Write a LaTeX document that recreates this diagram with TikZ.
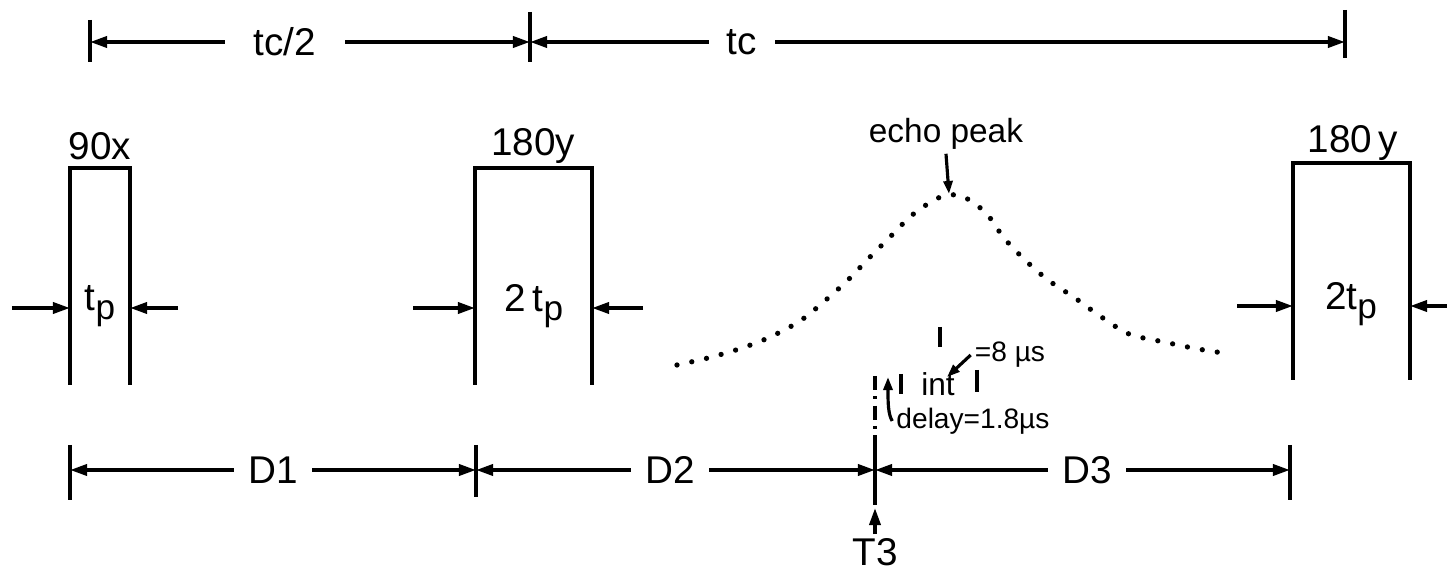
\documentclass[tikz,border=0pt]{standalone}
\usepackage{fontspec}
\setmainfont{Liberation Sans}
\usetikzlibrary{arrows.meta}

\newcommand{\pulsewidth}{t\raisebox{-0.45ex}{\fontsize{10}{10}\selectfont p}}

\begin{document}
\begin{tikzpicture}[x=0.01cm, y=-0.01cm,
    dimline/.style={line width=1pt, -{Triangle[length=1.7mm,width=1.1mm]}},
    smallarrow/.style={line width=0.9pt, -{Triangle[length=1.3mm,width=0.9mm]}},
    tickline/.style={line width=1pt},
    pulse/.style={line width=1.1pt},
    lbl/.style={font=\fontsize{11}{13}\selectfont, inner sep=1pt},
    smalllbl/.style={font=\fontsize{8}{9}\selectfont, inner sep=1pt},
    echodots/.style={line width=1.5pt, line cap=round, dash pattern=on 0pt off 4.3pt}]
    \useasboundingbox (0,0) rectangle (1447,573);

    % cycle time along the top
    \draw[tickline] (90,20) -- (90,62);
    \draw[tickline] (530,12) -- (530,62);
    \draw[tickline] (1345,10) -- (1345,58);
    \coordinate (top0) at (90,42);
    \coordinate (top1) at (530,42);
    \coordinate (top2) at (1345,42);
    \node[lbl, inner xsep=8pt] (tchalf) at (285,42) {tc/2};
    \node[lbl, inner xsep=5pt] (tcfull) at (742,42) {tc};
    \draw[dimline] (tchalf.west) -- (top0);
    \draw[dimline] (tchalf.east) -- (top1);
    \draw[dimline] (tcfull.west) -- (top1);
    \draw[dimline] (tcfull.east) -- (top2);

    % the three rf pulses
    \draw[pulse] (70,385) -- (70,168) -- (130,168) -- (130,385);
    \draw[pulse] (475,385) -- (475,168) -- (592,168) -- (592,385);
    \draw[pulse] (1293,380) -- (1293,163) -- (1410,163) -- (1410,380);
    \node[lbl] (p90x) at (100,146) {90x};
    \node[lbl] (p180a) at (533,146) {180y};
    \node[lbl] (p180b) at (1353,143) {180\,y};

    % pulse widths
    \node[lbl] (w90x) at (100,306) {\pulsewidth};
    \node[lbl] (w180a) at (534,306) {2\,\pulsewidth};
    \node[lbl] (w180b) at (1351,304) {2\pulsewidth};
    \coordinate (wa0) at (12,308);   \coordinate (wa1) at (70,308);
    \coordinate (wa2) at (178,308);  \coordinate (wa3) at (130,308);
    \coordinate (wb0) at (413,308);  \coordinate (wb1) at (475,308);
    \coordinate (wb2) at (643,308);  \coordinate (wb3) at (592,308);
    \coordinate (wc0) at (1237,306); \coordinate (wc1) at (1293,306);
    \coordinate (wc2) at (1447,306); \coordinate (wc3) at (1410,306);
    \draw[dimline] (wa0) -- (wa1);
    \draw[dimline] (wa2) -- (wa3);
    \draw[dimline] (wb0) -- (wb1);
    \draw[dimline] (wb2) -- (wb3);
    \draw[dimline] (wc0) -- (wc1);
    \draw[dimline] (wc2) -- (wc3);

    % echo, dotted
    \coordinate (peak) at (949,194);
    \draw[echodots] plot[smooth, tension=0.5] coordinates {
        (677,365) (708,358) (739,349) (768,338) (800,321) (827,299)
        (849,279) (869,258) (891,236) (911,216) (934,200) (949,195)
        (964,197) (986,213) (1004,238) (1025,260) (1048,280) (1075,298)
        (1100,316) (1129,334) (1164,342) (1198,349) (1230,354)};
    \node[lbl, font=\fontsize{9.5}{11}\selectfont] (echo) at (946,134) {echo peak};
    \draw[smallarrow] (echo.south) -- (peak);

    % acquisition window
    \draw[line width=0.9pt, dash pattern=on 4pt off 1.8pt on 0.8pt off 1.8pt] (875,376) -- (875,447);
    \draw[line width=0.9pt] (901,374) -- (901,394);
    \draw[line width=0.9pt] (977,370) -- (977,392);
    \draw[line width=0.9pt] (940,327) -- (940,347);
    \node[smalllbl, font=\fontsize{9}{10}\selectfont] (int) at (938,384) {int};
    \node[smalllbl] (eight) at (1010,355) {=8 µs};
    \node[smalllbl] (delay) at (973,421) {delay=1.8µs};
    \coordinate (inttip) at (947,377);
    \draw[smallarrow] (eight.west) -- (inttip);
    \coordinate (delaytip) at (888,377);
    \draw[smallarrow] (delay.west) .. controls (888,414) and (888,402) .. (delaytip);

    % delays along the bottom
    \draw[tickline] (70,445) -- (70,500);
    \draw[tickline] (476,445) -- (476,497);
    \draw[tickline] (875,447) -- (875,505);
    \draw[tickline] (1290,445) -- (1290,500);
    \coordinate (bot0) at (70,470);
    \coordinate (bot1) at (476,470);
    \coordinate (bot2) at (875,470);
    \coordinate (bot3) at (1290,470);
    \node[lbl, inner xsep=4pt] (d1) at (273,470) {D1};
    \node[lbl, inner xsep=4pt] (d2) at (670,470) {D2};
    \node[lbl, inner xsep=4pt] (d3) at (1087,470) {D3};
    \draw[dimline] (d1.west) -- (bot0);
    \draw[dimline] (d1.east) -- (bot1);
    \draw[dimline] (d2.west) -- (bot1);
    \draw[dimline] (d2.east) -- (bot2);
    \draw[dimline] (d3.west) -- (bot2);
    \draw[dimline] (d3.east) -- (bot3);

    % start of data taking
    \node[lbl] (t3) at (875,552) {T3};
    \coordinate (t3tip) at (875,508);
    \draw[dimline] (t3.north) -- (t3tip);
\end{tikzpicture}
\end{document}
